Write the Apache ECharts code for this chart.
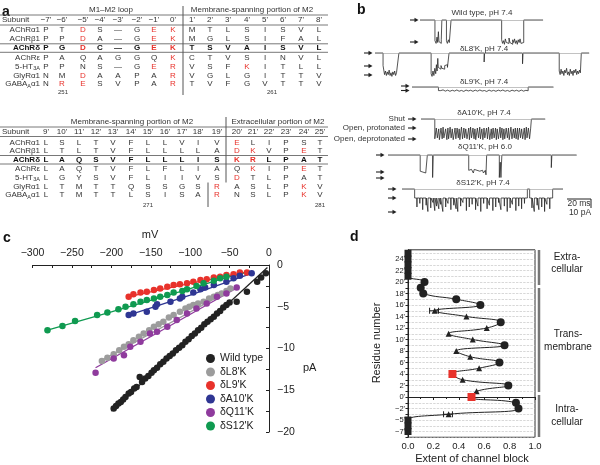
<!DOCTYPE html>
<html><head><meta charset="utf-8">
<script src="https://cdn.jsdelivr.net/npm/echarts@6/dist/echarts.min.js"></script>
<style>html,body{margin:0;padding:0;background:#fff}#c{width:600px;height:465px}</style>
</head><body><div id="c"></div>
<script>
const FONT = "'Liberation Sans', Arial, Helvetica, sans-serif";

// ---------------- Panel a : alignment ----------------
const topHeads = ["−7'","−6'","−5'","−4'","−3'","−2'","−1'","0'","1'","2'","3'","4'","5'","6'","7'","8'"];
const botHeads = ["9'","10'","11'","12'","13'","14'","15'","16'","17'","18'","19'","20'","21'","22'","23'","24'","25'"];
const subunitMain = ["AChRα1","AChRβ1","AChRδ","AChRε","5-HT","GlyRα1","GABA"];
const subunitSub  = ["","","","","3A","","A"];
const subunitTail = ["","","","","","","α1"];
const topSeq = [
  "P T D S — G E K M T L S I S V L",
  "P P D A — G E K M G L S I F A L",
  "P G D C — G E K T S V A I S V L",
  "P A Q A G G Q K C T V S I N V L",
  "P P N S — G E R V S F K I T L L",
  "N M D A A P A R V G L G I T T V",
  "N R E S V P A R T V F G V T T V"
];
const topRed = [[2,6,7],[2,6,7],[2,6,7],[7],[6,7,11],[2,7],[1,2,7]];
const botSeq = [
  "L S L T V F L L V I V E L I P S T",
  "L T L T V F L L L L A D K V P E T",
  "L A Q S V F L L L I S K R L P A T",
  "L A Q T V F L F L I A Q K I P E T",
  "L G Y S V F L I I V S D T L P A T",
  "L T M T T Q S S G S R A S L P K V",
  "L T M T T L S I S A R N S L P K V"
];
const botRed = [[11],[11,12,15],[11,12],[12,15],[11],[10,15],[10,15]];
const residueMarks = [["251",0],["261",1],["271",2],["281",3]];

// ---------------- Panel b : single-channel traces (dwell [ms, pA]) ----------------
const trWT = [[13,0],[1,-23],[0.8,-26],[0.6,-19],[0.6,-25],[0.5,-13],[0.8,-24],[1.2,-26],[0.5,-22],
 [4,0],[0.8,-23],[0.9,-26],[0.8,-22],[0.9,-25],[0.6,-24],
 [44,0],[0.8,-22],[0.8,-26],[0.8,-23],[0.8,-27],[0.8,-21],[0.8,-25],[0.8,-24],[0.8,-26],[0.8,-20],[0.8,-25],[0.8,-23],[0.8,-27],[0.8,-22],[0.8,-25],[0.8,-21],[0.8,-26],[0.8,-23],[0.8,-27],[0.8,-22],[0.8,-25],[0.8,-21],[0.8,-26],[0.8,-24],[0.8,-25],
 [16.8,0]];
const trL8 = [[7,0],[1.3,-14],[0.8,-24],[0.8,-20],[0.8,-25],[0.8,-21],[0.8,-24],[0.8,-19],[0.8,-25],[0.8,-22],[0.8,-26],[0.8,-21],[0.8,-24],[0.8,-20],[0.8,-25],[0.8,-22],[0.8,-24],[0.5,-21],
 [28,0],[0.8,-23],[0.8,-26],[0.8,-20],[0.8,-25],[0.8,-17],[0.6,-23],[0.6,-13],[0.6,-20],[0.4,-6],[0.8,-16],[0.8,-14],[0.8,-18],[0.8,-14],[0.8,-17],[0.8,-15],[0.8,-18],[0.8,-14],[0.8,-16],[0.8,-13],[0.8,-16],[0.6,-14],
 [30.5,0],[0.4,-10],[33,0],[0.4,-12],[31.5,0],
 [0.8,-20],[0.8,-24],[0.8,-18],[0.8,-23],[0.8,-20],[0.8,-25],[0.8,-19],[0.8,-22],[0.8,-17],[0.8,-24],[0.8,-21],[0.8,-25],[0.8,-18],[0.8,-23],[0.8,-20],[0.8,-25],[0.8,-19],[0.8,-22],[0.8,-18],[0.8,-24],[0.8,-20],[0.8,-23],[0.8,-19],[0.8,-22],
 [6.8,0]];
const trL9 = [[23,0],[2,-4],[2,-3.2],[2,-4.6],[2,-3.5],[2,-4.8],[2,-3.6],[2,-4.5],[2,-3.3],[2,-4.7],[2,-3.8],[2,-4.9],[2,-3.4],[2,-4.4],[2,-3.6],[2,-4.8],[2,-3.5],[2,-4.6],[2,-3.3],[2,-4.5],[2,-3.9],[2,-5],[2,-3.4],[2,-4.6],[2,-3.7],[2,-4.8],[2,-3.5],[2,-4.4],[2,-3.3],[2,-4.7],[2,-3.8],[2,-4.9],[2,-3.5],[2,-4.5],[2,-3.6],[2,-4.8],[2,-3.4],[2,-4.6],[2,-3.7],[2,-4.2],[22,0]];
const trA10 = [[12,0],
 [1.3,-22],[0.9,-10],[1.2,-21],[0.6,-11],[1.4,-23],[1.0,-10],[0.8,-22],[0.7,-9],[1.5,-21],[1.1,-11],[0.9,-23],[0.6,-10],[1.3,-22],[0.9,-9],[1.0,-21],[0.8,-11],[1.6,-23],[0.7,-10],[1.1,-22],[1.0,-10],[0.8,-21],[0.6,-11],[1.4,-23],[0.9,-9],[1.2,-22],[0.7,-10],[0.9,-21],[1.1,-11],[1.5,-22],[0.6,-10],[1.0,-23],[0.8,-9],[1.3,-21],[0.9,-10],[0.8,-22],[0.7,-11],[1.4,-23],[1.0,-10],[1.1,-21],[0.6,-9],[1.2,-22],[0.9,-11],[1.0,-23],[0.7,-10],[1.5,-21],[0.8,-10],[0.9,-22],[1.1,-9],[1.3,-23],[0.6,-11],[1.0,-22],[0.9,-10],[1.2,-21],[0.7,-10],[0.8,-23],[1.0,-11],[1.4,-22],[0.6,-9],[1.1,-21],[0.8,-10],[0.9,-23],[0.7,-11],[1.3,-22],[1.0,-10],[1.0,-21],[0.6,-10],[1.5,-23],[0.9,-9],[1.2,-22],[0.8,-11],[0.9,-21],[0.7,-10],[1.2,-22],[0.5,-10],
 [1.3,-23],[0.8,-10],[1.0,-21],[0.9,-11],[1.4,-22],[0.7,-10],[1.1,-23],[0.6,-9],[1.2,-21],[1.0,-10],[0.9,-22],[0.7,-11],
 [12,0]];
const trQ11 = [[28,0],[0.8,-18],[0.8,-20],[0.8,-19],[0.8,-21],[0.8,-18],[0.8,-20],[0.8,-19],[0.6,-20],
 [4.6,0],[0.5,-25],[30.9,0],
 [0.8,-17],[0.8,-19],[0.8,-16],[0.8,-18],[0.8,-17],[0.8,-20],[0.8,-16],[0.8,-18],[0.8,-17],[0.8,-19],[0.8,-16],[0.8,-18],[0.8,-17],[0.8,-19],[0.8,-17],[0.8,-18],[0.8,-20],[0.8,-18],[0.6,-17],
 [0.6,-22],[11,0],[0.8,-25],[0.6,-8],[0.8,-25],[43,0],[0.5,-14],[21.5,0]];
const trS12 = [[11,0],[98,-10],[2,0],[20,-10],[9,0]];
const spS12 = [[13,-20],[15.5,-16],[18,-23],[21,-18],[22.5,-25],[25,-21],[27,-15],[28.5,-24],[30,-19],[32,-22],[33.5,-17],[35.5,-25],[38,-20],[40,-16],[42.5,-23],[45,-18],[47,-22],[48.5,-25],[51,-19],[53,-15],[56,-24],[58.5,-20],[61,-17],[64,-23],[66,-19],[68.5,-25],[71,-16],[74,-22],[76,-18],[79,-24],[81.5,-20],[84,-15],[86,-23],[89,-19],[91.5,-25],[94,-21],[96,-17],[99,-24],[101.5,-19],[104,-22],[106.5,-16],[113,-21],[115,-25],[117.5,-18],[119,-23],[121.5,-20],[124,-25],[126,-17],[128.5,-22]];

// ---------------- Panel c : I-V relations [mV, pA] ----------------
const cWT = [[-197,-17.2],[-194,-16.9],[-191,-16.6],[-188,-16.4],[-185,-16.1],[-182,-15.8],[-178,-15.4],[-175,-15.2],[-171,-14.8],[-168,-14.6],[-164,-13.4],[-161,-14.0],[-157,-13.6],[-153,-13.3],[-149,-12.9],[-146,-12.6],[-142,-12.3],[-138,-11.9],[-134,-11.6],[-130,-11.2],[-126,-10.9],[-122,-10.6],[-118,-10.2],[-114,-9.9],[-110,-9.6],[-106,-9.2],[-102,-8.9],[-98,-8.5],[-94,-8.2],[-90,-7.8],[-86,-7.5],[-82,-7.1],[-78,-6.8],[-74,-6.5],[-70,-6.2],[-66,-5.8],[-62,-5.5],[-58,-5.1],[-54,-4.8],[-50,-4.5],[-41,-4.4],[-28,-3.2],[-15,-2.0],[-10,-1.5],[-4,-1.0]];
const cL8 = [[-212,-11.5],[-205,-11.1],[-197,-10.7],[-190,-10.2],[-184,-9.8],[-178,-9.5],[-172,-9.0],[-165,-8.6],[-159,-8.2],[-152,-7.8],[-146,-7.4],[-140,-7.1],[-134,-6.8],[-127,-6.3],[-121,-6.0],[-113,-5.6],[-106,-5.2],[-101,-5.0],[-96,-4.8],[-90,-4.6],[-83,-4.4],[-76,-4.0],[-70,-3.8],[-65,-3.6],[-60,-3.4],[-54,-3.1],[-49,-2.8]];
const cL9 = [[-178,-3.8],[-172,-3.5],[-163,-3.3],[-155,-3.2],[-146,-3.0],[-138,-2.8],[-129,-2.6],[-121,-2.4],[-113,-2.3],[-104,-2.2],[-96,-2.0],[-87,-1.8],[-79,-1.7],[-70,-1.5],[-62,-1.4],[-54,-1.2],[-45,-1.1],[-37,-0.9],[-28,-0.9]];
const cA10 = [[-178,-6.0],[-172,-5.8],[-155,-5.6],[-144,-5.0],[-142,-4.7],[-125,-4.4],[-113,-4.0],[-110,-3.8],[-96,-3.3],[-87,-2.9],[-81,-2.7],[-70,-2.4],[-54,-2.0],[-45,-1.6],[-37,-1.3],[-22,-1.0]];
const cQ11 = [[-220,-12.9],[-197,-11.2],[-184,-10.8],[-176,-9.8],[-163,-9.2],[-151,-8.2],[-142,-8.0],[-129,-7.4],[-117,-6.6],[-104,-5.8],[-92,-5.2],[-79,-4.6],[-66,-3.8],[-54,-3.4],[-41,-2.7]];
const cS12 = [[-281,-7.8],[-262,-7.3],[-246,-6.7],[-218,-6.0],[-205,-5.7],[-191,-5.3],[-182,-5.0],[-172,-4.7],[-163,-4.4],[-155,-4.2],[-146,-4.0],[-138,-3.8],[-129,-3.6],[-121,-3.3],[-110,-3.1],[-104,-2.9],[-92,-2.5],[-83,-2.2],[-70,-1.9],[-62,-1.6],[-54,-1.4]];
const fitWT = [[-200,-17.5],[-2,-0.3]];
const fitL8 = [[-214,-11.5],[-45,-2.8]];
const fitL9 = [[-178,-3.8],[-100,-2.2],[-25,-0.8]];
const fitA10 = [[-178,-6.0],[-100,-3.6],[-22,-1.0]];
const fitQ11 = [[-220,-12.3],[-38,-2.6]];
const fitS12 = [[-281,-7.8],[-200,-5.6],[-120,-3.4],[-50,-1.4],[-25,-0.8]];
const cNames = ["Wild type","δL8'K","δL9'K","δA10'K","δQ11'K","δS12'K"];
const cColors = ["#222222","#9c9c9c","#e8322b","#2f3693","#8f3b9d","#0f9a50"];

// ---------------- Panel d : extent of block vs residue ----------------
const dRes   = [25,24,23,22,21,20,19,18,17,16,15,14,13,12,11,10,9,8,7,6,5,4,3,2,1,0,-1,-2,-4,-5,-6,-7];
const dBlock = [0,0,0,0,0,0.13,0.10,0.12,0.38,0.57,0.21,0.46,0.73,0.62,0.32,0.51,0.76,0.38,0.49,0.72,0.56,0.35,0.43,0.79,0.54,0.50,0.85,0.87,0.32,0,0,0];
const dShape = ["s","s","s","s","s","c","c","c","c","c","t","t","c","t","t","t","c","t","t","c","t","r","t","c","t","r","c","c","t","s","s","s"];
const dErr = [[15,0.17,0.24],[-4,0.28,0.35]];

// ================= build =================
const resToP = r => (r >= -2 ? r : r + 1);   // δ subunit has no −3' residue
const pToLabel = p => { const r = p >= -2 ? p : p - 1; return (r < 0 ? "−" + (-r) : "" + r) + "'"; };
const minus = v => String(v).replace("-", "−");

function buildTrace(dw, sp) {
  const pts = [], segs = []; let t = 0;
  dw.forEach(([d, lv]) => { segs.push([t, t + d, lv]); pts.push([t, lv]); t += d; pts.push([t, lv]); });
  (sp || []).forEach(([ts, dep]) => {
    const s = segs.find(s => ts >= s[0] && ts < s[1]); const lv = s ? s[2] : 0;
    pts.push([ts - 0.15, lv], [ts, dep], [ts + 0.15, lv]);
  });
  pts.sort((a, b) => a[0] - b[0]);
  return { pts, T: t };
}

const G = [];
function txt(text, x, y, o) {
  o = o || {};
  G.push({ type: 'text', silent: true, x, y, rotation: o.rot || 0, z: 10,
    style: { text, x: 0, y: 0, fill: o.fill || '#333',
      font: (o.weight || 'normal') + ' ' + (o.size || 8) + 'px ' + FONT,
      align: o.align || 'center', textAlign: o.align || 'center',
      verticalAlign: 'middle', textVerticalAlign: 'middle' } });
}
function ln(x1, y1, x2, y2, o) {
  o = o || {};
  G.push({ type: 'line', silent: true, z: 10, shape: { x1, y1, x2, y2 },
    style: { stroke: o.c || '#555', lineWidth: o.w || 0.8 } });
}
function arrow(x, y) {
  ln(x, y, x + 6, y, { c: '#222', w: 1.1 });
  G.push({ type: 'polygon', silent: true, z: 10, shape: { points: [[x + 8.5, y], [x + 4.5, y - 2.3], [x + 4.5, y + 2.3]] }, style: { fill: '#222' } });
}

// panel letters
txt('a', 2, 12, { size: 14, weight: 'bold', align: 'left', fill: '#111' });
txt('b', 357, 10, { size: 14, weight: 'bold', align: 'left', fill: '#111' });
txt('c', 3, 238, { size: 14, weight: 'bold', align: 'left', fill: '#111' });
txt('d', 350, 237, { size: 14, weight: 'bold', align: 'left', fill: '#111' });

// tables
const colTop = [46,62,83,100,118,137,154,173,192,210,228,247,265,283,301,319];
const colBot = [46,62,79,96,113,131,148,165,182,198,217,237,253,269,286,304,320];
const rowTop = [29.5,38.5,48,57.5,66.5,75.5,84];
const rowBot = [142.5,151,159.5,169,177.5,186.5,195];
function drawTable(heads, seqs, reds, cols, rows, hy) {
  txt('Subunit', 2, hy, { align: 'left' });
  heads.forEach((h, i) => txt(h, cols[i], hy));
  seqs.forEach((s, r) => {
    const bold = r === 2;
    const base = { weight: bold ? 'bold' : 'normal', fill: bold ? '#111' : '#333' };
    // subunit name (right-aligned at x=40, with optional subscript)
    let xr = 40;
    if (subunitTail[r]) { txt(subunitTail[r], xr, rows[r], Object.assign({ align: 'right' }, base)); xr -= 9; }
    if (subunitSub[r]) { txt(subunitSub[r], xr, rows[r] + 2, Object.assign({ align: 'right', size: 5.5 }, base)); xr -= subunitSub[r].length * 3.6; }
    txt(subunitMain[r], xr, rows[r], Object.assign({ align: 'right' }, base));
    s.split(' ').forEach((ch, i) => {
      const red = reds[r].indexOf(i) >= 0;
      txt(ch, cols[i], rows[r], { weight: base.weight, fill: red ? '#e8322b' : base.fill });
    });
  });
}
drawTable(topHeads, topSeq, topRed, colTop, rowTop, 20);
drawTable(botHeads, botSeq, botRed, colBot, rowBot, 131.5);
txt('M1–M2 loop', 111, 10);
txt('Membrane-spanning portion of M2', 252, 10);
txt('Membrane-spanning portion of M2', 132, 122);
txt('Extracellular portion of M2', 278, 122);
[[63,92],[272,92],[148,205],[320,205]].forEach((p, i) => txt(residueMarks[i][0], p[0], p[1], { size: 6 }));
[15, 25].forEach(y => ln(0, y, 328, y));
[43.8, 52.3].forEach(y => ln(0, y, 328, y));
[127, 136.5].forEach(y => ln(0, y, 328, y));
[155.5, 164].forEach(y => ln(0, y, 328, y));
ln(183, 6, 183, 95, { w: 1 });
ln(226, 117, 226, 182.5, { w: 1 });
ln(208, 182.5, 208, 207, { w: 1 });

// traces
const XS = 1.15, YS = 0.9;
const traces = [
  { dw: trWT, sp: [], x0: 420, base: 20, label: 'Wild type, pH 7.4', lx: 482, ly: 13, ax: 410, arr: [20, 42] },
  { dw: trL8, sp: [], x0: 375, base: 53, label: "δL8'K, pH 7.4", lx: 484, ly: 49, ax: 364, arr: [53, 66, 75] },
  { dw: trL9, sp: [], x0: 412, base: 87, label: "δL9'K, pH 7.4", lx: 484, ly: 82, ax: 401, arr: [86, 90.5] },
  { dw: trA10, sp: [], x0: 421, base: 119, label: "δA10'K, pH 7.4", lx: 484, ly: 113, ax: 408, arr: [119, 128, 139] },
  { dw: trQ11, sp: [], x0: 388, base: 155, label: "δQ11'K, pH 6.0", lx: 485, ly: 147, ax: 376, arr: [155, 172, 178] },
  { dw: trS12, sp: spS12, x0: 402, base: 189, label: "δS12'K, pH 7.4", lx: 483, ly: 183, ax: 388, arr: [189, 198, 212] }
];
const grids = [], xAxes = [], yAxes = [], series = [];
traces.forEach((tr, i) => {
  const b = buildTrace(tr.dw, tr.sp);
  grids.push({ left: tr.x0, top: tr.base - 3 * YS, width: b.T * XS, height: 33 * YS });
  xAxes.push({ gridIndex: i, type: 'value', min: 0, max: b.T, show: false });
  yAxes.push({ gridIndex: i, type: 'value', min: -30, max: 3, show: false });
  series.push({ type: 'line', xAxisIndex: i, yAxisIndex: i, data: b.pts, showSymbol: false, symbol: 'none',
    lineStyle: { color: '#2a2a2a', width: 0.8 }, silent: true, clip: false,
    markLine: { silent: true, symbol: 'none', label: { show: false }, lineStyle: { color: '#999', width: 0.6, type: 'solid' }, data: [{ yAxis: 0 }] } });
  txt(tr.label, tr.lx, tr.ly, { size: 8 });
  tr.arr.forEach(y => arrow(tr.ax, y));
});
txt('Shut', 405, 119, { align: 'right' });
txt('Open, protonated', 405, 128, { align: 'right' });
txt('Open, deprotonated', 405, 139, { align: 'right' });
// scale bar
ln(567, 199, 591, 199, { c: '#222', w: 1 });
ln(591, 199, 591, 208, { c: '#222', w: 1 });
txt('20 ms', 579, 204, { size: 8.5 });
txt('10 pA', 580, 213, { size: 8.5 });

// panel c
const CI = 6;
grids.push({ left: 32.5, top: 265, width: 236.5, height: 167 });
xAxes.push({ gridIndex: CI, type: 'value', position: 'top', min: -300, max: 0, interval: 50,
  axisLine: { lineStyle: { color: '#222', width: 1 } }, axisTick: { inside: true, length: 3, lineStyle: { color: '#222' } },
  minorTick: { show: true, splitNumber: 2, length: 3, lineStyle: { color: '#222' } }, splitLine: { show: false },
  axisLabel: { fontSize: 10.5, color: '#222', margin: 6, formatter: minus, fontFamily: FONT } });
yAxes.push({ gridIndex: CI, type: 'value', position: 'right', min: -20, max: 0, interval: 5,
  axisLine: { show: true, lineStyle: { color: '#222', width: 1 } }, axisTick: { show: true, inside: true, length: 3, lineStyle: { color: '#222' } },
  minorTick: { show: true, splitNumber: 2, length: 3, lineStyle: { color: '#222' } }, splitLine: { show: false },
  axisLabel: { fontSize: 10.5, color: '#222', margin: 8, formatter: minus, fontFamily: FONT } });
const cPts = [cWT, cL8, cL9, cA10, cQ11, cS12];
const cFits = [fitWT, fitL8, fitL9, fitA10, fitQ11, fitS12];
cFits.forEach((f, i) => series.push({ type: 'line', xAxisIndex: CI, yAxisIndex: CI, data: f, showSymbol: false, symbol: 'none', silent: true, z: 2,
  lineStyle: { color: cColors[i], width: 1.3 } }));
cPts.forEach((p, i) => series.push({ type: 'scatter', name: cNames[i], xAxisIndex: CI, yAxisIndex: CI, data: p, symbolSize: 6.5, z: 3,
  itemStyle: { color: cColors[i], opacity: 1 } }));
txt('mV', 150, 235, { size: 11, fill: '#222' });
txt('pA', 303, 368, { size: 11, fill: '#222', align: 'left' });

// panel d
const DI = 7;
grids.push({ left: 408, top: 249.8, width: 127, height: 187.45, show: true, borderColor: '#333', borderWidth: 1 });
xAxes.push({ gridIndex: DI, type: 'value', min: 0, max: 1, interval: 0.2,
  axisLine: { lineStyle: { color: '#222', width: 1 } }, axisTick: { length: 3, lineStyle: { color: '#222' } },
  minorTick: { show: true, splitNumber: 2, length: 2, lineStyle: { color: '#222' } }, splitLine: { show: false },
  axisLabel: { fontSize: 9.5, color: '#222', margin: 4, formatter: v => v.toFixed(1), fontFamily: FONT } });
yAxes.push({ gridIndex: DI, type: 'value', min: -7, max: 25.6, interval: 1,
  axisLine: { show: true, lineStyle: { color: '#222', width: 1 } }, axisTick: { show: true, length: 2.5, lineStyle: { color: '#222' } },
  splitLine: { show: true, lineStyle: { color: '#bdbdbd', width: 0.6, type: 'dashed' } },
  axisLabel: { fontSize: 7.5, color: '#222', margin: 3, fontFamily: FONT, showMaxLabel: false,
    formatter: p => (p % 2 === 0 && p >= -6 && p <= 24) ? pToLabel(p) : '' } });
const shapeMap = { s: ['rect', 7, '#222'], c: ['circle', 8, '#222'], t: ['triangle', 6, '#222'], r: ['rect', 8, '#e8322b'] };
series.push({ type: 'line', xAxisIndex: DI, yAxisIndex: DI, smooth: 0.45, z: 3,
  lineStyle: { color: '#222', width: 1 },
  data: dRes.map((r, i) => { const sh = shapeMap[dShape[i]]; return { value: [dBlock[i], resToP(r)], symbol: sh[0], symbolSize: sh[1], itemStyle: { color: sh[2] } }; }) });
series.push({ type: 'custom', xAxisIndex: DI, yAxisIndex: DI, z: 4, silent: true,
  data: dErr.map(e => [e[1], e[2], resToP(e[0])]),
  renderItem: (params, api) => {
    const a = api.coord([api.value(0), api.value(2)]), b = api.coord([api.value(1), api.value(2)]);
    const st = { stroke: '#222', lineWidth: 1 };
    return { type: 'group', children: [
      { type: 'line', shape: { x1: a[0], y1: a[1], x2: b[0], y2: b[1] }, style: st },
      { type: 'line', shape: { x1: a[0], y1: a[1] - 3, x2: a[0], y2: a[1] + 3 }, style: st },
      { type: 'line', shape: { x1: b[0], y1: b[1] - 3, x2: b[0], y2: b[1] + 3 }, style: st } ] };
  } });
txt('Residue number', 377, 343, { size: 11, rot: Math.PI / 2, fill: '#222' });
txt('Extent of channel block', 472, 459, { size: 11, fill: '#222' });
ln(539, 250, 539, 285, { c: '#777', w: 2.5 });
ln(539, 288, 539, 392, { c: '#777', w: 2.5 });
ln(539, 395, 539, 437, { c: '#777', w: 2.5 });
txt('Extra-', 567, 257, { size: 10, fill: '#222' });
txt('cellular', 567, 269, { size: 10, fill: '#222' });
txt('Trans-', 568, 334, { size: 10, fill: '#222' });
txt('membrane', 568, 347, { size: 10, fill: '#222' });
txt('Intra-', 567, 409, { size: 10, fill: '#222' });
txt('cellular', 567, 422, { size: 10, fill: '#222' });

const chart = echarts.init(document.getElementById('c'), null, { renderer: 'canvas' });
chart.setOption({
  animation: false,
  backgroundColor: '#fff',
  textStyle: { fontFamily: FONT },
  grid: grids, xAxis: xAxes, yAxis: yAxes, series,
  legend: { data: cNames, left: 206, top: 353, orient: 'vertical', itemWidth: 9, itemHeight: 9, itemGap: 2.5, icon: 'circle', padding: 0,
    textStyle: { fontSize: 10.5, color: '#222', fontFamily: FONT }, selectedMode: false },
  graphic: { elements: G }
});
</script></body></html>
